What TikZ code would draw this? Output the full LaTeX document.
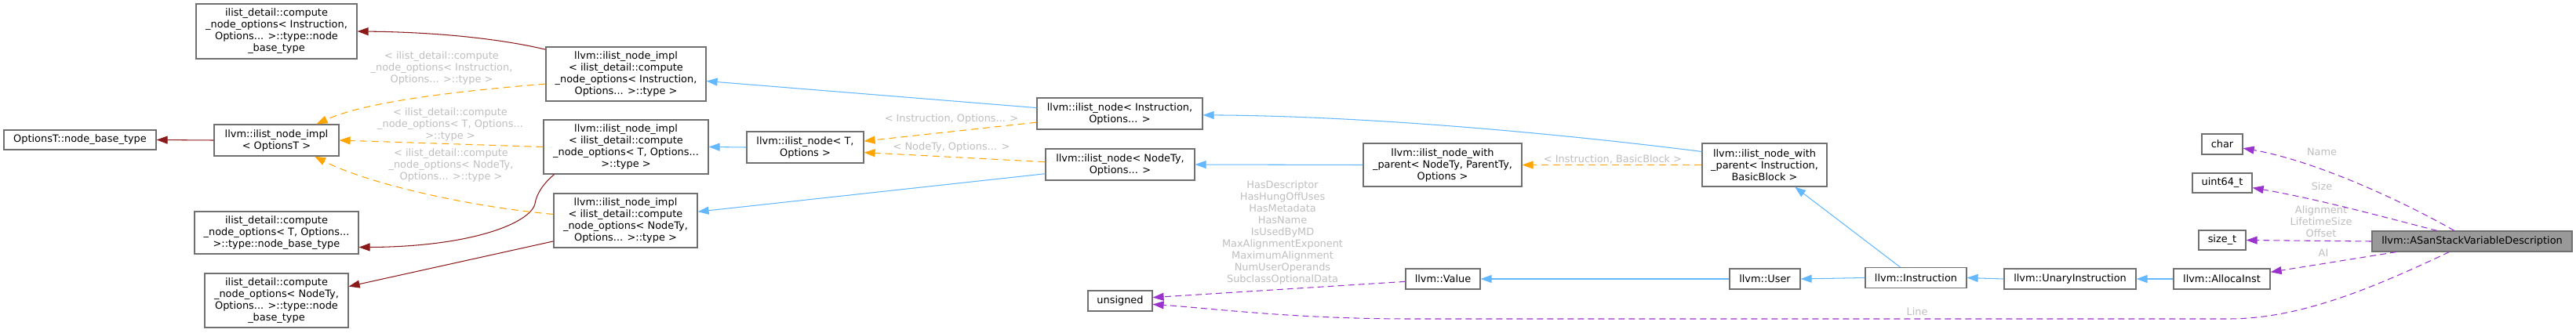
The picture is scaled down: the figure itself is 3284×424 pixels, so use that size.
\documentclass[tikz,border=0pt]{standalone}
\usepackage{fontspec}
\setmainfont{DejaVu Sans}
\usepackage{tikz}
\usetikzlibrary{arrows.meta}
\definecolor{pubblue}{RGB}{99,184,255}
\definecolor{privred}{RGB}{139,26,26}
\definecolor{tmplorange}{RGB}{255,165,0}
\definecolor{usepurple}{RGB}{154,50,205}
\definecolor{boxgray}{RGB}{112,112,112}
\definecolor{focusgray}{RGB}{153,153,153}
\colorlet{labelgray}{black!25}

\begin{document}
\begin{tikzpicture}[x=1pt,y=-1pt,every node/.style={font=\fontsize{12.9}{15}\selectfont},
    cls/.style={draw=boxgray,fill=white,line width=1.2pt,align=center,inner sep=0pt},
    focus/.style={cls,fill=focusgray},
    lbl/.style={text=labelgray,align=center,inner sep=0pt},
    tip/.style={-{Triangle[length=14pt,width=10pt]},line width=1.05pt},
    pub/.style={tip,draw=pubblue},
    priv/.style={tip,draw=privred},
    tmpl/.style={tip,draw=tmplorange,dash pattern=on 9pt off 6pt},
    usage/.style={tip,draw=usepurple,dash pattern=on 8pt off 5pt}]
        \path[use as bounding box,fill=white] (0,0) rectangle (3284,424);
        % classes
        \node[cls,minimum width=194pt,minimum height=25pt] (optbase) at (102,178.5) {OptionsT::node\_base\_type};
        \node[cls,minimum width=159pt,minimum height=40pt] (implopt) at (352.5,179) {llvm::ilist\_node\_impl\\< OptionsT >};
        \node[cls,minimum width=205pt,minimum height=70pt] (cnoI) at (352.5,40) {ilist\_detail::compute\\\_node\_options< Instruction,\\Options... >::type::node\\\_base\_type};
        \node[cls,minimum width=209pt,minimum height=54pt] (cnoT) at (352.5,297) {ilist\_detail::compute\\\_node\_options< T, Options...\\>::type::node\_base\_type};
        \node[cls,minimum width=183pt,minimum height=69pt] (cnoN) at (352.5,383.5) {ilist\_detail::compute\\\_node\_options< NodeTy,\\Options... >::type::node\\\_base\_type};
        \node[cls,minimum width=204pt,minimum height=69pt] (implI) at (798,94.5) {llvm::ilist\_node\_impl\\< ilist\_detail::compute\\\_node\_options< Instruction,\\Options... >::type >};
        \node[cls,minimum width=210pt,minimum height=69pt] (implT) at (798,187.5) {llvm::ilist\_node\_impl\\< ilist\_detail::compute\\\_node\_options< T, Options...\\>::type >};
        \node[cls,minimum width=183pt,minimum height=69pt] (implN) at (797.5,281.5) {llvm::ilist\_node\_impl\\< ilist\_detail::compute\\\_node\_options< NodeTy,\\Options... >::type >};
        \node[cls,minimum width=149pt,minimum height=40pt] (nodeT) at (1026.5,188) {llvm::ilist\_node< T,\\Options >};
        \node[cls,minimum width=211pt,minimum height=40pt] (nodeI) at (1427.5,145) {llvm::ilist\_node< Instruction,\\Options... >};
        \node[cls,minimum width=190pt,minimum height=40pt] (nodeN) at (1428,210) {llvm::ilist\_node< NodeTy,\\Options... >};
        \node[cls,minimum width=82pt,minimum height=26pt] (unsig) at (1428,384) {unsigned};
        \node[cls,minimum width=202pt,minimum height=55pt] (wpN) at (1839,210.5) {llvm::ilist\_node\_with\\\_parent< NodeTy, ParentTy,\\Options >};
        \node[cls,minimum width=95pt,minimum height=26pt] (value) at (1839.5,356) {llvm::Value};
        \node[cls,minimum width=159pt,minimum height=55pt] (wpI) at (2249.5,210.5) {llvm::ilist\_node\_with\\\_parent< Instruction,\\BasicBlock >};
        \node[cls,minimum width=90pt,minimum height=26pt] (user) at (2250,356) {llvm::User};
        \node[cls,minimum width=129pt,minimum height=26pt] (instr) at (2442.5,354.5) {llvm::Instruction};
        \node[cls,minimum width=168pt,minimum height=26pt] (unary) at (2639,356) {llvm::UnaryInstruction};
        \node[cls,minimum width=123pt,minimum height=26pt] (alloca) at (2832.5,356) {llvm::AllocaInst};
        \node[cls,minimum width=52pt,minimum height=26pt] (char) at (2833,184) {char};
        \node[cls,minimum width=76pt,minimum height=25pt] (uint) at (2833,233.5) {uint64\_t};
        \node[cls,minimum width=60pt,minimum height=25pt] (sizet) at (2833,306.5) {size\_t};
        \node[focus,minimum width=255pt,minimum height=26pt] (asan) at (3151.5,308) {llvm::ASanStackVariableDescription};
        % edge labels
        \node[lbl] (lbimplI) at (563,87) {< ilist\_detail::compute\\\_node\_options< Instruction,\\Options... >::type >};
        \node[lbl] (lbimplT) at (574,159) {< ilist\_detail::compute\\\_node\_options< T, Options...\\>::type >};
        \node[lbl] (lbimplN) at (575,211) {< ilist\_detail::compute\\\_node\_options< NodeTy,\\Options... >::type >};
        \node[lbl] (lbnodeI) at (1213,152) {< Instruction, Options... >};
        \node[lbl] (lbnodeN) at (1213,188) {< NodeTy, Options... >};
        \node[lbl] (lbwpI) at (2056,203) {< Instruction, BasicBlock >};
        \node[lbl] (lbvalue) at (1635,297) {HasDescriptor\\HasHungOffUses\\HasMetadata\\HasName\\IsUsedByMD\\MaxAlignmentExponent\\MaximumAlignment\\NumUserOperands\\SubclassOptionalData};
        \node[lbl] (lbline) at (2444,398) {Line};
        \node[lbl] (lbname) at (2960,194) {Name};
        \node[lbl] (lbsize) at (2960,238) {Size};
        \node[lbl] (lbsizet) at (2959,283) {Alignment\\LifetimeSize\\Offset};
        \node[lbl] (lbai) at (2962,323) {AI};
        % private inheritance
        \draw[priv] (implopt.west) -- (optbase.east);
        \draw[priv] (implI.163) .. controls (640,50) and (560,41) .. (cnoI.east);
        \draw[priv] (implT.201) .. controls (695,232) and (684,246) .. (682,260) .. controls (676,285) and (600,315) .. (cnoT.350);
        \draw[priv] (implN.196) -- (cnoN.11);
        % template instances
        \draw[tmpl] (implI.187) .. controls (600,115) and (470,128) .. (implopt.22);
        \draw[tmpl] (implT.west) -- (implopt.east);
        \draw[tmpl] (implN.175) .. controls (600,264) and (470,235) .. (implopt.337);
        \draw[tmpl] (nodeI.186) -- (nodeT.6);
        \draw[tmpl] (nodeN.178) -- (nodeT.355);
        \draw[tmpl] (wpI.west) -- (wpN.east);
        % public inheritance
        \draw[pub] (nodeT.west) -- (implT.east);
        \draw[pub] (nodeI.176) -- (implI.355);
        \draw[pub] (nodeN.187) -- (implN.7);
        \draw[pub] (wpN.west) -- (nodeN.east);
        \draw[pub] (wpI.168) .. controls (2000,172) and (1750,148) .. (nodeI.359);
        \draw[pub] (instr.146) -- (wpI.324);
        \draw[pub] (instr.west) -- (user.east);
        \draw[pub] (user.west) -- (value.east);
        \draw[pub] (unary.west) -- (instr.east);
        \draw[pub] (alloca.west) -- (unary.east);
        % usage
        \draw[usage] (value.184) -- (unsig.6);
        \draw[usage] (asan.205) .. controls (3020,370) and (2930,407) .. (2840,407) -- (1800,407) .. controls (1650,407) and (1550,394) .. (unsig.354);
        \draw[usage] (asan.149) .. controls (3060,255) and (2950,205) .. (char.349);
        \draw[usage] (asan.163) .. controls (3050,280) and (2960,255) .. (uint.351);
        \draw[usage] (asan.west) -- (sizet.east);
        \draw[usage] (asan.188) -- (alloca.8);
      \end{tikzpicture}
\end{document}
